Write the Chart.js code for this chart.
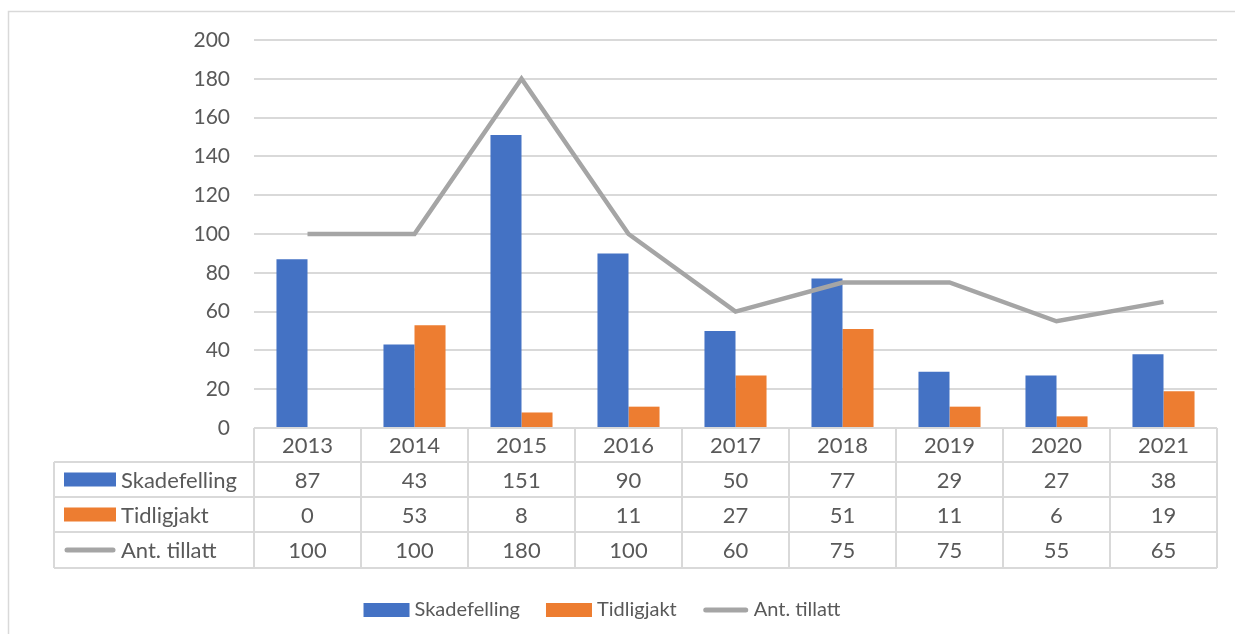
<!DOCTYPE html>
<html>
<head>
<meta charset="utf-8">
<script src="https://cdn.jsdelivr.net/npm/chart.js@4.4.1/dist/chart.umd.min.js"></script>
<style>
  html, body { margin: 0; padding: 0; background: #fff; }
  #wrap { position: relative; width: 1235px; height: 634px; }
</style>
</head>
<body>
<div id="wrap"><canvas id="c"></canvas></div>
<script>
const years = ['2013', '2014', '2015', '2016', '2017', '2018', '2019', '2020', '2021'];
const skadefelling = [87, 43, 151, 90, 50, 77, 29, 27, 38];
const tidligjakt = [0, 53, 8, 11, 27, 51, 11, 6, 19];
const antTillatt = [100, 100, 180, 100, 60, 75, 75, 55, 65];

const BLUE = '#4472c4', ORANGE = '#ed7d31', GREY = '#a5a5a5';
const TEXT = '#595959', LINE = '#d9d9d9';
const FONT = 'Lato, "Open Sans", sans-serif';

const series = [
  { label: 'Skadefelling', values: skadefelling, color: BLUE, kind: 'box' },
  { label: 'Tidligjakt', values: tidligjakt, color: ORANGE, kind: 'box' },
  { label: 'Ant. tillatt', values: antTillatt, color: GREY, kind: 'line' },
];

function drawKey(ctx, s, x, y, w, h) {
  if (s.kind === 'box') {
    ctx.fillStyle = s.color;
    ctx.fillRect(x, y - h / 2, w, h);
  } else {
    ctx.strokeStyle = s.color;
    ctx.lineWidth = 5;
    ctx.lineCap = 'round';
    ctx.beginPath();
    ctx.moveTo(x + 3, y);
    ctx.lineTo(x + w - 3, y);
    ctx.stroke();
  }
}

// data table under the plot + bottom legend + outer frame
const tablePlugin = {
  id: 'dataTable',
  afterDraw(chart) {
    const ctx = chart.ctx;
    const xs = chart.scales.x;
    const area = chart.chartArea;
    const n = years.length;
    const colW = (area.right - area.left) / n;
    const top = area.bottom;
    const rows = [top, top + 34, top + 69, top + 104, top + 140];
    const tableLeft = 54;

    ctx.save();
    // frame
    ctx.strokeStyle = LINE;
    ctx.lineWidth = 1.5;
    ctx.beginPath();
    ctx.moveTo(8.5, 640);
    ctx.lineTo(8.5, 11.5);
    ctx.lineTo(1240, 11.5);
    ctx.stroke();

    // grid of table
    ctx.lineWidth = 2;
    ctx.strokeStyle = LINE;
    ctx.beginPath();
    ctx.moveTo(area.left, rows[0]);
    ctx.lineTo(area.right, rows[0]);
    for (let r = 1; r < rows.length; r++) {
      ctx.moveTo(tableLeft, rows[r]);
      ctx.lineTo(area.right, rows[r]);
    }
    ctx.moveTo(tableLeft, rows[1]);
    ctx.lineTo(tableLeft, rows[4]);
    for (let i = 0; i <= n; i++) {
      const x = area.left + i * colW;
      ctx.moveTo(x, rows[0]);
      ctx.lineTo(x, rows[4]);
    }
    ctx.stroke();

    ctx.fillStyle = TEXT;
    ctx.font = '22px ' + FONT;
    ctx.textAlign = 'center';
    ctx.textBaseline = 'middle';
    years.forEach((y, i) => {
      ctx.fillText(y, xs.getPixelForValue(i), (rows[0] + rows[1]) / 2 + 1);
    });
    series.forEach((s, r) => {
      const cy = (rows[r + 1] + rows[r + 2]) / 2 + 1;
      ctx.fillStyle = TEXT;
      ctx.textAlign = 'center';
      s.values.forEach((v, i) => ctx.fillText(String(v), xs.getPixelForValue(i), cy));
      drawKey(ctx, s, 64, cy - 1, 52, 14);
      ctx.fillStyle = TEXT;
      ctx.textAlign = 'left';
      ctx.fillText(s.label, 121, cy);
    });

    // bottom legend
    ctx.font = '20px ' + FONT;
    const keyW = 46, gap = 5, itemGap = 26;
    const widths = series.map(s => keyW + gap + ctx.measureText(s.label).width);
    const total = widths.reduce((a, b) => a + b, 0) + itemGap * (series.length - 1);
    let x = 602 - total / 2;
    const ly = 610;
    series.forEach((s, i) => {
      drawKey(ctx, s, x, ly, keyW, 14);
      ctx.fillStyle = TEXT;
      ctx.textAlign = 'left';
      ctx.fillText(s.label, x + keyW + gap, ly);
      x += widths[i] + itemGap;
    });
    ctx.restore();
  }
};

new Chart(document.getElementById('c'), {
  type: 'bar',
  data: {
    labels: years,
    datasets: [
      { type: 'line', label: 'Ant. tillatt', data: antTillatt, borderColor: GREY, borderWidth: 4.5,
        pointRadius: 0, tension: 0, borderJoinStyle: 'miter', order: 0 },
      { label: 'Skadefelling', data: skadefelling, backgroundColor: BLUE, order: 1,
        categoryPercentage: 0.58, barPercentage: 1 },
      { label: 'Tidligjakt', data: tidligjakt, backgroundColor: ORANGE, order: 1,
        categoryPercentage: 0.58, barPercentage: 1 },
    ],
  },
  options: {
    responsive: true,
    maintainAspectRatio: false,
    animation: false,
    layout: { padding: { top: 40, right: 18, bottom: 206, left: 0 } },
    plugins: { legend: { display: false }, tooltip: { enabled: false } },
    scales: {
      x: { display: false },
      y: {
        min: 0, max: 200,
        ticks: { stepSize: 20, color: TEXT, font: { family: FONT, size: 21 }, padding: 24 },
        grid: { color: LINE, lineWidth: 2, drawTicks: false },
        border: { display: false },
        afterFit(scale) { scale.width = 254; },
      },
    },
  },
  plugins: [tablePlugin],
});
</script>
</body>
</html>
